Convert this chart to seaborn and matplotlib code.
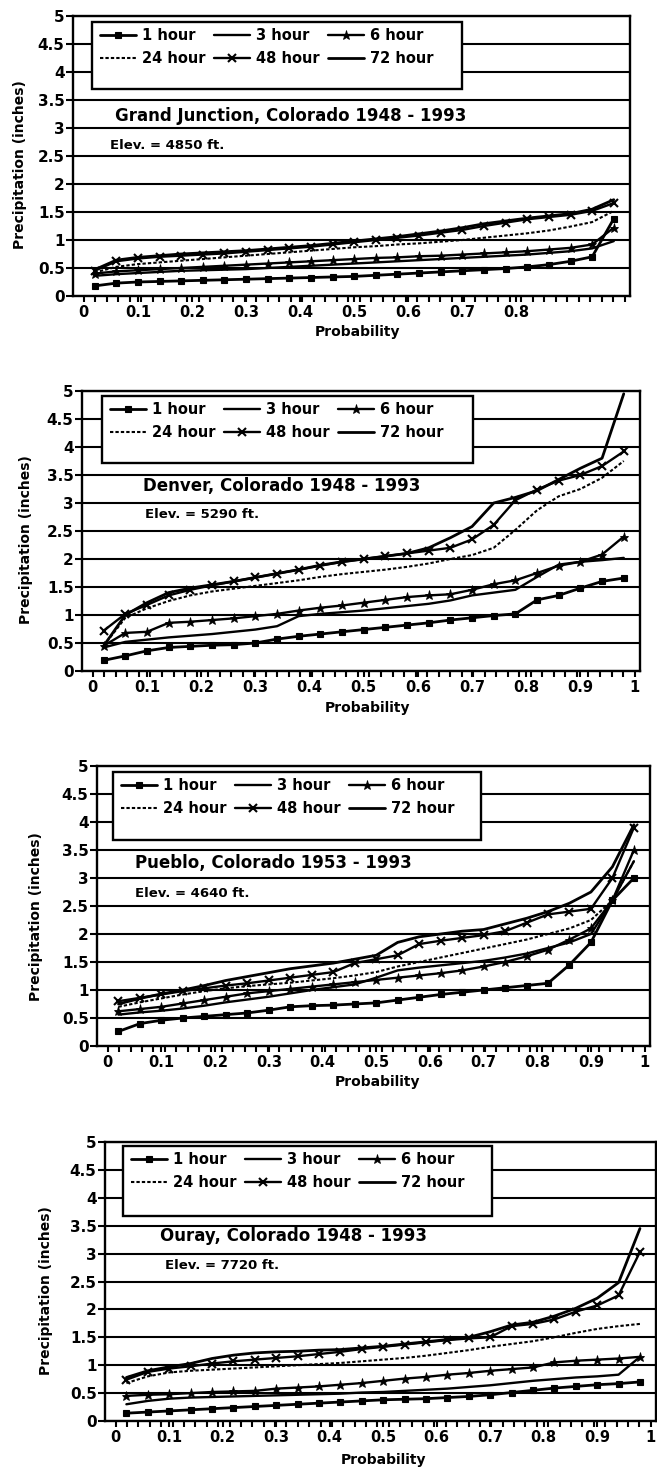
import matplotlib
matplotlib.use("Agg")
import matplotlib.pyplot as plt
import seaborn as sns
from matplotlib.patches import Rectangle
from matplotlib.ticker import MultipleLocator

# ---------------- data ----------------
PROB = [0.02, 0.06, 0.10, 0.14, 0.18, 0.22, 0.26, 0.30, 0.34, 0.38, 0.42, 0.46,
        0.50, 0.54, 0.58, 0.62, 0.66, 0.70, 0.74, 0.78, 0.82, 0.86, 0.90, 0.94, 0.98]

DURATIONS = ["1 hour", "3 hour", "6 hour", "24 hour", "48 hour", "72 hour"]

GJ_1H = [0.18, 0.23, 0.25, 0.26, 0.27, 0.28, 0.29, 0.30, 0.31, 0.32, 0.33, 0.34, 0.35,
         0.37, 0.39, 0.41, 0.43, 0.45, 0.47, 0.49, 0.52, 0.56, 0.62, 0.70, 1.38]
GJ_3H = [0.36, 0.39, 0.41, 0.43, 0.45, 0.46, 0.47, 0.48, 0.50, 0.52, 0.54, 0.56, 0.58,
         0.60, 0.62, 0.64, 0.66, 0.68, 0.70, 0.72, 0.74, 0.77, 0.80, 0.85, 0.98]
GJ_6H = [0.40, 0.44, 0.46, 0.48, 0.50, 0.52, 0.54, 0.56, 0.58, 0.60, 0.62, 0.64, 0.66,
         0.68, 0.69, 0.71, 0.72, 0.74, 0.76, 0.78, 0.80, 0.83, 0.86, 0.92, 1.22]
GJ_24H = [0.42, 0.52, 0.57, 0.60, 0.63, 0.66, 0.69, 0.72, 0.75, 0.78, 0.81, 0.84, 0.87,
          0.89, 0.92, 0.94, 0.97, 1.00, 1.04, 1.08, 1.12, 1.17, 1.24, 1.32, 1.52]
GJ_48H = [0.45, 0.62, 0.67, 0.70, 0.72, 0.74, 0.76, 0.79, 0.82, 0.85, 0.88, 0.92, 0.96,
          1.00, 1.04, 1.08, 1.13, 1.18, 1.25, 1.31, 1.37, 1.41, 1.45, 1.52, 1.66]
GJ_72H = [0.47, 0.64, 0.69, 0.72, 0.75, 0.77, 0.79, 0.81, 0.84, 0.87, 0.90, 0.94, 0.98,
          1.02, 1.06, 1.11, 1.16, 1.22, 1.29, 1.34, 1.39, 1.43, 1.47, 1.55, 1.72]

DEN_1H = [0.19, 0.27, 0.36, 0.42, 0.44, 0.46, 0.47, 0.50, 0.57, 0.62, 0.66, 0.70, 0.74,
          0.78, 0.82, 0.86, 0.91, 0.95, 0.99, 1.02, 1.27, 1.35, 1.48, 1.60, 1.66]
DEN_3H = [0.42, 0.52, 0.56, 0.60, 0.63, 0.66, 0.70, 0.74, 0.80, 0.98, 1.02, 1.05, 1.08,
          1.12, 1.16, 1.20, 1.26, 1.35, 1.40, 1.45, 1.68, 1.90, 1.95, 1.98, 2.02]
DEN_6H = [0.45, 0.68, 0.70, 0.86, 0.88, 0.91, 0.94, 0.98, 1.02, 1.08, 1.13, 1.17, 1.22,
          1.27, 1.32, 1.35, 1.37, 1.45, 1.55, 1.62, 1.75, 1.88, 1.95, 2.08, 2.40]
DEN_24H = [0.45, 0.95, 1.12, 1.25, 1.35, 1.42, 1.47, 1.52, 1.57, 1.62, 1.68, 1.73, 1.77,
           1.81, 1.86, 1.92, 2.00, 2.07, 2.20, 2.52, 2.87, 3.12, 3.25, 3.45, 3.75]
DEN_48H = [0.72, 1.02, 1.18, 1.35, 1.45, 1.53, 1.60, 1.67, 1.74, 1.81, 1.88, 1.95, 2.00,
           2.05, 2.10, 2.15, 2.20, 2.35, 2.61, 3.05, 3.24, 3.40, 3.50, 3.66, 3.92]
DEN_72H = [0.45, 1.00, 1.22, 1.40, 1.48, 1.54, 1.60, 1.67, 1.74, 1.81, 1.89, 1.95, 2.00,
           2.05, 2.10, 2.20, 2.38, 2.58, 3.00, 3.10, 3.22, 3.42, 3.62, 3.80, 4.95]

PUE_1H = [0.26, 0.40, 0.46, 0.50, 0.53, 0.56, 0.59, 0.64, 0.70, 0.72, 0.73, 0.75, 0.77,
          0.82, 0.87, 0.92, 0.96, 1.00, 1.04, 1.08, 1.12, 1.45, 1.85, 2.60, 3.00]
PUE_3H = [0.56, 0.60, 0.63, 0.67, 0.72, 0.78, 0.83, 0.88, 0.94, 1.00, 1.05, 1.10, 1.22,
          1.35, 1.40, 1.44, 1.48, 1.52, 1.58, 1.65, 1.75, 1.85, 2.00, 2.60, 3.30]
PUE_6H = [0.62, 0.66, 0.70, 0.76, 0.82, 0.88, 0.94, 0.98, 1.02, 1.06, 1.10, 1.14, 1.18,
          1.22, 1.26, 1.30, 1.35, 1.42, 1.50, 1.60, 1.72, 1.90, 2.10, 2.60, 3.50]
PUE_24H = [0.70, 0.78, 0.85, 0.92, 0.98, 1.03, 1.07, 1.10, 1.13, 1.17, 1.21, 1.26, 1.32,
           1.42, 1.50, 1.58, 1.66, 1.74, 1.82, 1.90, 2.00, 2.10, 2.25, 2.60, 3.30]
PUE_48H = [0.80, 0.86, 0.92, 0.98, 1.03, 1.08, 1.12, 1.17, 1.22, 1.27, 1.32, 1.48, 1.55,
           1.62, 1.82, 1.88, 1.93, 1.98, 2.05, 2.20, 2.35, 2.40, 2.45, 3.00, 3.90]
PUE_72H = [0.75, 0.85, 0.93, 1.00, 1.08, 1.17, 1.24, 1.31, 1.38, 1.43, 1.48, 1.55, 1.62,
           1.85, 1.95, 2.00, 2.05, 2.08, 2.18, 2.28, 2.40, 2.55, 2.75, 3.20, 3.95]

OUR_1H = [0.14, 0.16, 0.18, 0.20, 0.22, 0.24, 0.26, 0.28, 0.30, 0.32, 0.34, 0.36, 0.38,
          0.39, 0.40, 0.42, 0.44, 0.47, 0.51, 0.55, 0.59, 0.62, 0.65, 0.67, 0.70]
OUR_3H = [0.30, 0.36, 0.40, 0.42, 0.43, 0.44, 0.45, 0.46, 0.47, 0.48, 0.49, 0.51, 0.52,
          0.54, 0.56, 0.58, 0.61, 0.64, 0.68, 0.72, 0.75, 0.78, 0.80, 0.83, 1.15]
OUR_6H = [0.45, 0.47, 0.48, 0.50, 0.52, 0.53, 0.54, 0.58, 0.60, 0.62, 0.65, 0.68, 0.72,
          0.76, 0.79, 0.83, 0.86, 0.90, 0.93, 0.96, 1.05, 1.08, 1.10, 1.12, 1.15]
OUR_24H = [0.68, 0.80, 0.87, 0.90, 0.92, 0.94, 0.96, 0.98, 1.00, 1.02, 1.04, 1.07, 1.10,
           1.13, 1.17, 1.22, 1.27, 1.33, 1.38, 1.43, 1.50, 1.58, 1.65, 1.70, 1.74]
OUR_48H = [0.74, 0.88, 0.94, 0.98, 1.03, 1.07, 1.10, 1.13, 1.16, 1.20, 1.24, 1.29, 1.33,
           1.37, 1.41, 1.45, 1.48, 1.50, 1.70, 1.74, 1.82, 1.96, 2.07, 2.25, 3.03]
OUR_72H = [0.78, 0.90, 0.97, 1.03, 1.12, 1.18, 1.22, 1.24, 1.25, 1.27, 1.28, 1.31, 1.34,
           1.38, 1.42, 1.46, 1.50, 1.60, 1.72, 1.77, 1.88, 2.02, 2.20, 2.48, 3.45]

STATIONS = ["Grand Junction, Colorado 1948 - 1993",
            "Denver, Colorado 1948 - 1993",
            "Pueblo, Colorado 1953 - 1993",
            "Ouray, Colorado 1948 - 1993"]
ELEVATIONS = ["Elev. = 4850 ft.", "Elev. = 5290 ft.", "Elev. = 4640 ft.", "Elev. = 7720 ft."]

SERIES = [
    [GJ_1H, GJ_3H, GJ_6H, GJ_24H, GJ_48H, GJ_72H],
    [DEN_1H, DEN_3H, DEN_6H, DEN_24H, DEN_48H, DEN_72H],
    [PUE_1H, PUE_3H, PUE_6H, PUE_24H, PUE_48H, PUE_72H],
    [OUR_1H, OUR_3H, OUR_6H, OUR_24H, OUR_48H, OUR_72H],
]

Y_TICKS = [0, 0.5, 1, 1.5, 2, 2.5, 3, 3.5, 4, 4.5, 5]
X_TICKS_FULL = [0, 0.1, 0.2, 0.3, 0.4, 0.5, 0.6, 0.7, 0.8, 0.9, 1]
X_TICKS_GJ = [0, 0.1, 0.2, 0.3, 0.4, 0.5, 0.6, 0.7, 0.8]

# ---------------- styles / layout ----------------
STYLE = {
    "1 hour": dict(marker="s", markersize=5, markerfacecolor="black",
                   markeredgecolor="black", markeredgewidth=0.8, linestyle="-", linewidth=2.0),
    "3 hour": dict(marker=None, linestyle="-", linewidth=1.7),
    "6 hour": dict(marker="*", markersize=6.5, markerfacecolor="black",
                   markeredgecolor="black", markeredgewidth=0.6, linestyle="-", linewidth=1.7),
    "24 hour": dict(marker=None, linestyle=(0, (1.6, 1.0)), linewidth=1.5),
    "48 hour": dict(marker="x", markersize=6, markeredgecolor="black",
                    markeredgewidth=1.5, linestyle="-", linewidth=1.7),
    "72 hour": dict(marker=None, linestyle="-", linewidth=2.0),
}
LEGEND_ORDER = ["1 hour", "24 hour", "3 hour", "48 hour", "6 hour", "72 hour"]

FIG_W, FIG_H = 657, 1467
# axes rectangles in pixels: left, top, right, bottom
AX_PX = [(73, 16, 630, 296), (82, 391, 640, 671), (97, 766, 650, 1046), (105, 1142, 656, 1421)]
# legend box in px relative to axes top-left: x0, top, x1, bottom
LEG_PX = [(19, 6, 389, 73), (20, 5, 391, 72), (16, 6, 384, 74), (18, 4, 387, 74)]
# title / elevation text: (x frac, y data)
TITLE_POS = [(0.075, 3.22), (0.110, 3.30), (0.069, 3.27), (0.100, 3.32)]
ELEV_POS = [(0.066, 2.69), (0.113, 2.80), (0.069, 2.73), (0.109, 2.78)]
XLABEL_POS = [(0.510, -0.104), (0.512, -0.107), (0.508, -0.104), (0.505, -0.115)]
YLABEL_POS = [(-0.082, 0.468), (-0.087, 0.471), (-0.097, 0.461), (-0.094, 0.466)]

sns.set_theme(style="white")
plt.rcParams.update({
    "font.family": ["DejaVu Sans"],
    "font.weight": "bold",
    "axes.labelweight": "bold",
    "axes.edgecolor": "black",
    "axes.labelcolor": "black",
    "text.color": "black",
    "xtick.color": "black",
    "ytick.color": "black",
})

fig = plt.figure(figsize=(FIG_W / 100, FIG_H / 100), dpi=100)

for i in range(4):
    l, t, r, b = AX_PX[i]
    ax = fig.add_axes([l / FIG_W, 1 - b / FIG_H, (r - l) / FIG_W, (b - t) / FIG_H])
    w_px, h_px = r - l, b - t

    handles = {}
    for name, vals in zip(DURATIONS, SERIES[i]):
        sns.lineplot(x=PROB, y=vals, ax=ax, color="black", errorbar=None,
                     sort=False, **STYLE[name])
        handles[name] = ax.lines[-1]

    ax.set_xlim(-0.02, 1.01)
    ax.set_ylim(0, 5)
    ax.set_yticks(Y_TICKS)
    ax.set_yticklabels([f"{v:g}" for v in Y_TICKS])
    xt = X_TICKS_GJ if i == 0 else X_TICKS_FULL
    ax.set_xticks(xt)
    ax.set_xticklabels([f"{v:g}" for v in xt])
    ax.xaxis.set_minor_locator(MultipleLocator(1 / 47))
    ax.tick_params(axis="both", which="both", direction="out", width=1.5, colors="black")
    ax.tick_params(axis="y", which="major", length=5, pad=1, left=True, right=False,
                   labelsize=11)
    ax.tick_params(axis="x", which="both", length=4.5, pad=2, bottom=True, top=False,
                   labelsize=10.5)
    for lab in ax.get_xticklabels() + ax.get_yticklabels():
        lab.set_fontweight("bold")

    ax.grid(False)
    ax.yaxis.grid(True, color="black", linewidth=1.5)
    ax.set_axisbelow(True)
    for s in ax.spines.values():
        s.set_visible(True)
        s.set_color("black")
        s.set_linewidth(1.7)

    # legend box
    x0, tp, x1, bt = LEG_PX[i]
    rect = Rectangle((x0 / w_px, 1 - bt / h_px), (x1 - x0) / w_px, (bt - tp) / h_px,
                     transform=ax.transAxes, facecolor="white", edgecolor="black",
                     linewidth=1.7, zorder=3)
    ax.add_patch(rect)
    leg = ax.legend(handles=[handles[n] for n in LEGEND_ORDER], labels=LEGEND_ORDER,
                    ncol=3, frameon=False, loc="upper left",
                    bbox_to_anchor=((x0 + 8) / w_px, 1 - (tp + 6) / h_px),
                    borderpad=0, borderaxespad=0, handlelength=2.5, handletextpad=0.4,
                    columnspacing=0.55, labelspacing=0.55,
                    prop={"size": 10.5, "weight": "bold"})
    leg.set_zorder(5)

    tx, ty = TITLE_POS[i]
    ax.text(tx, ty, STATIONS[i], transform=ax.get_yaxis_transform(), ha="left",
            va="center", fontsize=12, fontweight="bold", zorder=4)
    ex, ey = ELEV_POS[i]
    ax.text(ex, ey, ELEVATIONS[i], transform=ax.get_yaxis_transform(), ha="left",
            va="center", fontsize=9.5, fontweight="bold", zorder=4)

    ax.set_xlabel("Probability", fontsize=10, fontweight="bold")
    ax.set_ylabel("Precipitation (inches)", fontsize=10, fontweight="bold")
    ax.xaxis.set_label_coords(*XLABEL_POS[i])
    ax.yaxis.set_label_coords(*YLABEL_POS[i])

fig.savefig("out.png", dpi=100)
